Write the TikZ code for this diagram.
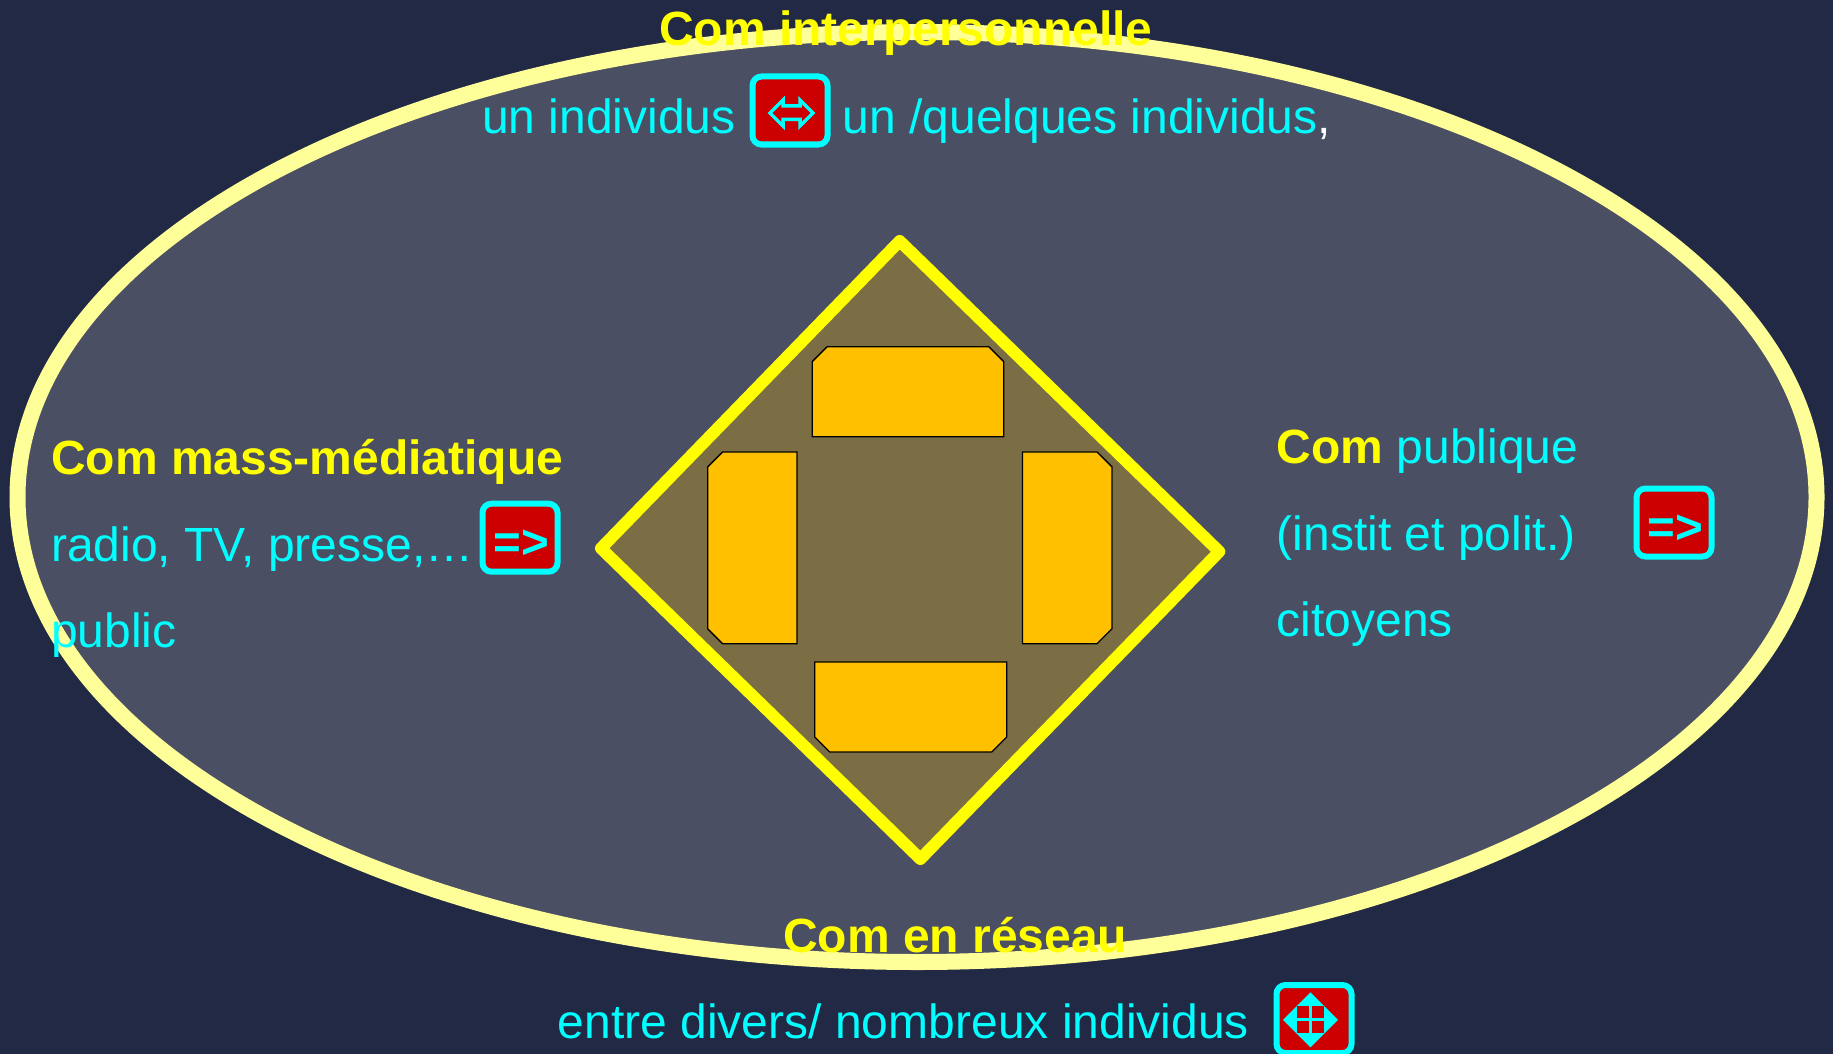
\documentclass[tikz,border=0pt]{standalone}
\usepackage{fontspec}
\setmainfont{Liberation Sans}
\definecolor{fondnuit}{HTML}{222944}
\definecolor{fondgris}{HTML}{4A4F63}
\definecolor{bordpale}{HTML}{FFFF99}
\definecolor{fondbrun}{HTML}{7B6E44}
\definecolor{boxgold}{HTML}{FFC000}
\definecolor{iconred}{HTML}{CC0000}
\definecolor{texcyan}{HTML}{00FFFF}
\definecolor{texjaune}{HTML}{FFFF00}
\definecolor{texblanc}{HTML}{FFFFFF}
\tikzset{
	libelle/.style={anchor=base west,inner sep=0pt,text=texcyan,font=\fontsize{48}{57}\selectfont},
	titre/.style={libelle,text=texjaune,font=\fontsize{48}{57}\selectfont\bfseries},
	iconbox/.style={draw=texcyan,fill=iconred,line width=6pt,rounded corners=9pt,inner sep=0pt,minimum width=75pt,minimum height=68pt},
	flechetxt/.style={anchor=base,inner sep=0pt,text=texcyan,font=\fontsize{47.5}{57}\selectfont\bfseries},
	goldbox/.style={draw=black,fill=boxgold,line width=1.3pt}
}
\begin{document}
\begin{tikzpicture}[x=1pt,y=-1pt]
	\useasboundingbox (0,0) rectangle (1833,1054);
	\fill[fondnuit] (0,0) rectangle (1833,1054);
	\draw[draw=bordpale,fill=fondgris,line width=16pt] (917,497) ellipse (899.5 and 465);
	\draw[draw=texjaune,fill=fondbrun,line width=12pt,line join=round] (899.7,241) -- (1219.3,551.6) -- (920.4,859) -- (601,548.3) -- cycle;
	\draw[goldbox] (812.2,436.7) -- (812.2,361.7) -- (827.2,346.7) -- (988.8,346.7) -- (1003.8,361.7) -- (1003.8,436.7) -- cycle;
	\draw[goldbox] (796.9,451.9) -- (722.7,451.9) -- (707.7,466.9) -- (707.7,628.8) -- (722.7,643.8) -- (796.9,643.8) -- cycle;
	\draw[goldbox] (1022.4,451.9) -- (1097,451.9) -- (1112,466.9) -- (1112,628.8) -- (1097,643.8) -- (1022.4,643.8) -- cycle;
	\draw[goldbox] (814.7,661.9) -- (1006.7,661.9) -- (1006.7,737) -- (991.7,752) -- (829.7,752) -- (814.7,737) -- cycle;

	\node[titre] (interTitre) at (659,46) {Com interpersonnelle};
	\node[libelle] (interGauche) at (482,133) {un individus};
	\node[iconbox] (interIcon) at (790,110.5) {};
	\node[libelle] (interDroite) at (842.5,133) {un /quelques individus\textcolor{texblanc}{,}};
	\draw[texcyan,line width=3.5pt,line join=miter] (770,113) -- (783,100) -- (783,106) -- (800,106) -- (800,100) -- (813,113) -- (800,126) -- (800,119.5) -- (783,119.5) -- (783,126) -- cycle;

	\node[titre] (massTitre) at (51,474) {Com mass-médiatique};
	\node[libelle] (massMedia) at (51,561.5) {radio, TV, presse,…};
	\node[libelle] (massPublic) at (51,647.5) {public};
	\node[iconbox] (massIcon) at (520,537.7) {};
	\node[flechetxt] (massFleche) at (521,558.5) {=>};

	\node[titre] (pubTitre) at (1276.5,463) {Com \textcolor{texcyan}{\mdseries publique}};
	\node[libelle] (pubInstit) at (1276.5,550) {(instit et polit.)};
	\node[libelle] (pubCitoyens) at (1276.5,636.5) {citoyens};
	\node[iconbox] (pubIcon) at (1674,522.5) {};
	\node[flechetxt] (pubFleche) at (1675,543.5) {=>};

	\node[titre] (resTitre) at (783,952) {Com en réseau};
	\node[libelle] (resTexte) at (557.7,1038) {entre divers/ nombreux individus};
	\node[iconbox] (resIcon) at (1314,1019) {};
	\fill[texcyan] (1310.5,992.3) -- (1338,1019.8) -- (1310.5,1047.3) -- (1283,1019.8) -- cycle;
	\fill[iconred] (1297,1006.3) rectangle (1308.7,1018);
	\fill[iconred] (1312.3,1006.3) rectangle (1324,1018);
	\fill[iconred] (1297,1021.3) rectangle (1308.7,1032.7);
	\fill[iconred] (1312.3,1021.3) rectangle (1324,1032.7);
\end{tikzpicture}
\end{document}
